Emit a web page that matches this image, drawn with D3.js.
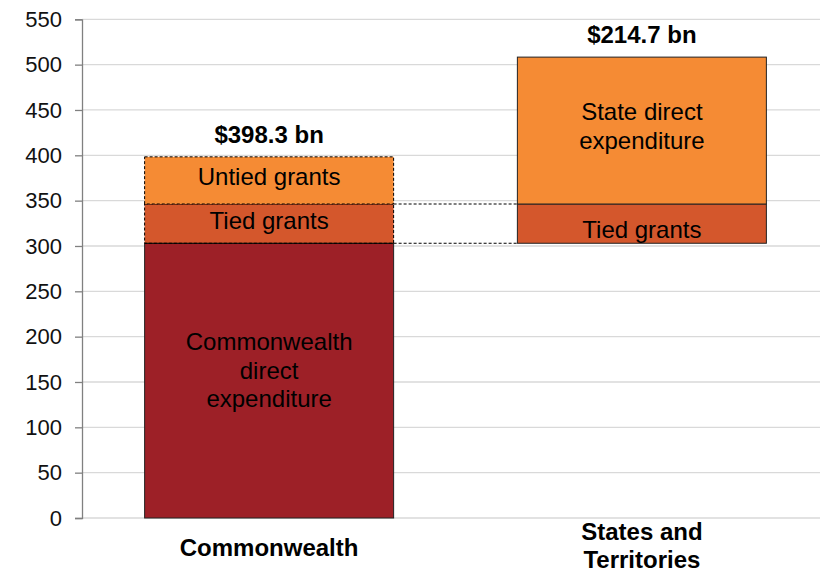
<!DOCTYPE html>
<html><head><meta charset="utf-8">
<script src="https://cdn.jsdelivr.net/npm/d3@7"></script>
<style>body{margin:0;background:#fff}svg{display:block;font-family:"Liberation Sans",Arial,sans-serif}</style>
</head><body>
<svg id="chart" width="820" height="573"></svg>
<script>
const categories = ["Commonwealth", "States and Territories"];
const categoryLines = [["Commonwealth"], ["States and", "Territories"]];
const totalLabels = ["$398.3 bn", "$214.7 bn"];
const yTicks = [0, 50, 100, 150, 200, 250, 300, 350, 400, 450, 500, 550];
// Commonwealth stack (bottom to top)
const cwSegments = ["Commonwealth direct expenditure", "Tied grants", "Untied grants"];
const cwValues = [303.0, 43.3, 52.0];
// States stack (starts at the level of Commonwealth direct expenditure)
const stSegments = ["Tied grants", "State direct expenditure"];
const stValues = [43.3, 162.0];
const stBase = 303.0;

const colors = {
  "Commonwealth direct expenditure": "#9d2027",
  "Tied grants": "#d4572c",
  "Untied grants": "#f58b34",
  "State direct expenditure": "#f58b34"
};
const segLabel = {
  "Commonwealth direct expenditure": ["Commonwealth", "direct", "expenditure"],
  "Tied grants": ["Tied grants"],
  "Untied grants": ["Untied grants"],
  "State direct expenditure": ["State direct", "expenditure"]
};

const svg = d3.select("#chart");
const x = d3.scaleBand().domain(categories).range([82, 829]).paddingInner(0.332).paddingOuter(0.168);
const y = d3.scaleLinear().domain([0, 550]).range([518, 19.3]);

// gridlines
svg.append("g").selectAll("line").data(yTicks).join("line")
  .attr("x1", 82).attr("x2", 820).attr("y1", d => y(d)).attr("y2", d => y(d))
  .attr("stroke", "#d9d9d9").attr("stroke-width", 1.3);

// axis
const axis = d3.axisLeft(y).tickValues(yTicks).tickSize(7).tickPadding(13).tickFormat(d3.format("d"));
const ag = svg.append("g").attr("transform", "translate(82,0)").call(axis);
ag.select(".domain").attr("stroke", "#808080").attr("stroke-width", 1.3);
ag.selectAll(".tick line").attr("stroke", "#808080").attr("stroke-width", 1.3);
ag.selectAll(".tick text").attr("font-size", 22).attr("fill", "#111").attr("font-family", "'Liberation Sans', Arial, sans-serif");

function stack(values, names, base) {
  let acc = base;
  return values.map((v, i) => { const s = { name: names[i], y0: acc, y1: acc + v }; acc += v; return s; });
}
const cw = stack(cwValues, cwSegments, 0);
const st = stack(stValues, stSegments, stBase);

const bw = x.bandwidth();
const cwX = x(categories[0]), stX = x(categories[1]);

// connector dashed lines
[cw[0].y1, cw[1].y1].forEach(v => {
  svg.append("line").attr("x1", cwX + bw).attr("x2", stX).attr("y1", y(v)).attr("y2", y(v))
    .attr("stroke", "#000").attr("stroke-width", 1).attr("stroke-dasharray", "3,2");
});

function drawBars(segs, x0, dashedFrom) {
  segs.forEach((s, i) => {
    svg.append("rect").attr("x", x0).attr("width", bw)
      .attr("y", y(s.y1)).attr("height", y(s.y0) - y(s.y1))
      .attr("fill", colors[s.name])
      .attr("stroke", i >= dashedFrom ? "#000" : "#222").attr("stroke-width", 1)
      .attr("stroke-dasharray", i >= dashedFrom ? "3,2" : null);
  });
}
drawBars(cw, cwX, 1);
drawBars(st, stX, 99);
svg.append("line").attr("x1", cwX).attr("x2", cwX + bw).attr("y1", y(cw[0].y1)).attr("y2", y(cw[0].y1)).attr("stroke", "#000").attr("stroke-width", 1);

// segment labels
const labelCenters = [
  { seg: cw[0], x0: cwX, dy: -10 },
  { seg: cw[1], x0: cwX, dy: -3 },
  { seg: cw[2], x0: cwX, dy: -3 },
  { seg: st[0], x0: stX, dy: 6 },
  { seg: st[1], x0: stX, dy: -4 }
];
labelCenters.forEach(l => {
  const lines = segLabel[l.seg.name];
  const cy = (y(l.seg.y0) + y(l.seg.y1)) / 2 + l.dy;
  const lh = 28.5;
  lines.forEach((t, i) => {
    svg.append("text").attr("x", l.x0 + bw / 2)
      .attr("y", cy + (i - (lines.length - 1) / 2) * lh + 8)
      .attr("text-anchor", "middle").attr("font-size", 24).attr("fill", "#000").text(t);
  });
});

// totals
[[cwX, cw[2].y1], [stX, st[1].y1]].forEach((p, i) => {
  svg.append("text").attr("x", p[0] + bw / 2).attr("y", y(p[1]) - 14)
    .attr("text-anchor", "middle").attr("font-size", 24).attr("font-weight", "bold").attr("fill", "#000").text(totalLabels[i]);
});

// category labels
categories.forEach((c, i) => {
  const lines = categoryLines[i];
  lines.forEach((t, j) => {
    svg.append("text").attr("x", x(c) + bw / 2)
      .attr("y", lines.length === 1 ? 556 : 540 + j * 28)
      .attr("text-anchor", "middle").attr("font-size", 24).attr("font-weight", "bold").attr("fill", "#000").text(t);
  });
});
</script>
</body></html>
